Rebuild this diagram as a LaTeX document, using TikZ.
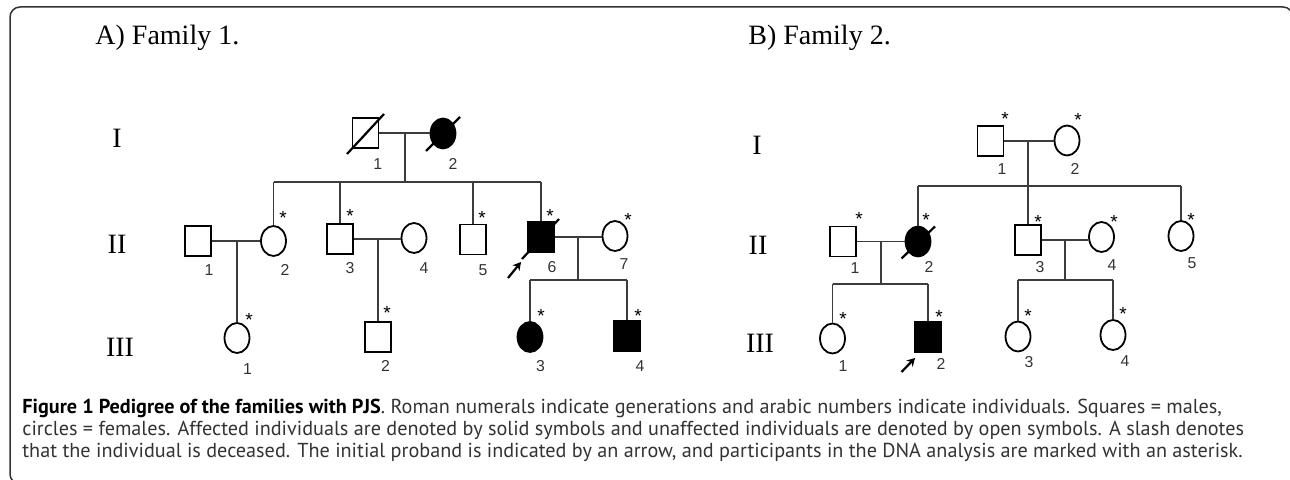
\documentclass[tikz,border=0pt]{standalone}
\usepackage{fontspec}
\setmainfont{Liberation Serif}
\newfontfamily\lab{Liberation Sans}
\newfontfamily\capfont{PT Sans}
\usetikzlibrary{shapes.geometric,arrows.meta}
\definecolor{linegray}{HTML}{3C3C3C}
\definecolor{capgray}{HTML}{333333}
\tikzset{
  x=0.5pt, y=-0.5pt,
  sym/.style={draw=black, line width=0.9pt, inner sep=0pt},
  male/.style={sym, rectangle, minimum width=13pt, minimum height=15pt},
  female/.style={sym, ellipse, minimum width=12.5pt, minimum height=15pt},
  aff/.style={fill=black},
  rel/.style={draw=linegray, line width=0.65pt},
  dec/.style={draw=black, line width=1.1pt},
  proband/.style={draw=black, line width=1.1pt, -{Stealth[length=4pt,width=4.5pt]}},
  num/.style={font=\lab\fontsize{7.9}{8}\selectfont, text=capgray, inner sep=0pt},
  ast/.style={font=\lab\fontsize{9.5}{9.5}\selectfont, inner sep=0pt, anchor=north},
  gen/.style={font=\fontsize{14}{15}\selectfont, inner sep=0pt},
  ttl/.style={font=\fontsize{14}{15}\selectfont, inner sep=0pt, anchor=base west},
  capline/.style={font=\capfont\fontsize{10.1}{12}\selectfont, text=capgray, inner sep=0pt, anchor=base west},
  frame/.style={draw=capgray, line width=0.75pt, rounded corners=5pt}
}
\begin{document}
\begin{tikzpicture}
\useasboundingbox (0,0) rectangle (1290,480);
\clip (0,0) rectangle (1290,480);
\fill[white] (0,0) rectangle (1290,480);
\draw[frame] (40,484) -- (10,484) -- (10,7) -- (1293,7) -- (1293,40);

% titles
\node[ttl] (tA) at (95,45) {A) Family 1.};
\node[ttl] (tB) at (748,45) {B) Family 2.};

% generation labels
\node[gen] (gA1) at (117,138) {I};
\node[gen] (gA2) at (117,244) {II};
\node[gen] (gA3) at (120,347) {III};
\node[gen] (gB1) at (757,145) {I};
\node[gen] (gB2) at (758,245) {II};
\node[gen] (gB3) at (760,343) {III};

%%%%%%%% Family A
\node[male] (A11) at (365.5,133) {};
\node[female,aff] (A12) at (443,133.5) {};
\node[male] (A21) at (198,241) {};
\node[female] (A22) at (273.5,241) {};
\node[male] (A23) at (340,239) {};
\node[female] (A24) at (414,238) {};
\node[male] (A25) at (473,239.5) {};
\node[male,aff] (A26) at (541,237) {};
\node[female] (A27) at (615,236) {};
\node[female] (A31) at (237,338) {};
\node[male] (A32) at (378,337) {};
\node[female,aff] (A33) at (530,337) {};
\node[male,aff] (A34) at (627,336) {};

% deceased slashes & proband
\draw[dec] ([shift={(-18.5,21)}]A11.center) -- ([shift={(18.5,-19)}]A11.center);
\draw[dec] ([shift={(-17,17.5)}]A12.center) -- ([shift={(17,-16.5)}]A12.center);
\draw[dec] ([shift={(-19,22)}]A26.center) -- ([shift={(18,-18)}]A26.center);
\draw[proband] ([shift={(-33,41)}]A26.center) -- ([shift={(-20,25)}]A26.center);

% connectors A
\draw[rel] (A11.east) -- (A11.east -| A12.west);
\coordinate (mA1) at (405,133.5);
\coordinate (sA1) at (405,182);
\draw[rel] (mA1) -- (sA1);
\draw[rel] (A22.north |- sA1) -- (A26.north |- sA1);
\foreach \c in {A22,A23,A25,A26} \draw[rel] (\c.north) -- (\c.north |- sA1);

\draw[rel] (A21.east) -- (A21.east -| A22.west);
\coordinate (mA2) at (237,241);
\draw[rel] (mA2) -- (A31.north);

\draw[rel] (A23.east) -- (A23.east -| A24.west);
\coordinate (mA3) at (378,239);
\draw[rel] (mA3) -- (A32.north);

\draw[rel] (A26.east) -- (A26.east -| A27.west);
\coordinate (mA4) at (578,236.5);
\coordinate (sA4) at (578,280);
\draw[rel] (mA4) -- (sA4);
\draw[rel] (A33.north |- sA4) -- (A34.north |- sA4);
\foreach \c in {A33,A34} \draw[rel] (\c.north) -- (\c.north |- sA4);

% numbers A
\node[num] (nA11) at (377.7,164) {1};
\node[num] (nA12) at (453,164) {2};
\node[num] (nA21) at (209,270) {1};
\node[num] (nA22) at (285,270) {2};
\node[num] (nA23) at (350,268) {3};
\node[num] (nA24) at (424,268) {4};
\node[num] (nA25) at (483,270) {5};
\node[num] (nA26) at (552,267) {6};
\node[num] (nA27) at (624,264) {7};
\node[num] (nA31) at (247.5,369) {1};
\node[num] (nA32) at (385.5,366) {2};
\node[num] (nA33) at (540.5,366) {3};
\node[num] (nA34) at (640,366) {4};

% asterisks A
\node[ast] (sa22) at (283,211) {*};
\node[ast] (sa23) at (350,209) {*};
\node[ast] (sa25) at (482,211) {*};
\node[ast] (sa26) at (550,209) {*};
\node[ast] (sa27) at (628,213) {*};
\node[ast] (sa31) at (249,313) {*};
\node[ast] (sa32) at (387,306) {*};
\node[ast] (sa33) at (541,309) {*};
\node[ast] (sa34) at (638,309) {*};

%%%%%%%% Family B
\node[male] (B11) at (990.5,141) {};
\node[female] (B12) at (1067,140.5) {};
\node[male] (B21) at (843,241.5) {};
\node[female,aff] (B22) at (918,241.5) {};
\node[male] (B23) at (1028,240) {};
\node[female] (B24) at (1101.5,237) {};
\node[female] (B25) at (1181,236) {};
\node[female] (B31) at (832.5,338.5) {};
\node[male,aff] (B32) at (928,337) {};
\node[female] (B33) at (1018,336.5) {};
\node[female] (B34) at (1113,335) {};

\draw[dec] ([shift={(-16.5,17)}]B22.center) -- ([shift={(17,-15)}]B22.center);
\draw[proband] ([shift={(-26.5,35)}]B32.center) -- ([shift={(-13,21)}]B32.center);

% connectors B
\draw[rel] (B11.east) -- (B11.east -| B12.west);
\coordinate (mB1) at (1028,141);
\coordinate (sB1) at (1028,186);
\draw[rel] (mB1) -- (sB1);
\draw[rel] (B22.north |- sB1) -- (B25.north |- sB1);
\foreach \c in {B22,B23,B25} \draw[rel] (\c.north) -- (\c.north |- sB1);

\draw[rel] (B21.east) -- (B21.east -| B22.west);
\coordinate (mB2) at (881,241.5);
\coordinate (sB2) at (881,284);
\draw[rel] (mB2) -- (sB2);
\draw[rel] (B31.north |- sB2) -- (B32.north |- sB2);
\foreach \c in {B31,B32} \draw[rel] (\c.north) -- (\c.north |- sB2);

\draw[rel] (B23.east) -- (B23.east -| B24.west);
\coordinate (mB3) at (1065,240);
\coordinate (sB3) at (1065,280);
\draw[rel] (mB3) -- (sB3);
\draw[rel] (B33.north |- sB3) -- (B34.north |- sB3);
\foreach \c in {B33,B34} \draw[rel] (\c.north) -- (\c.north |- sB3);

% numbers B
\node[num] (nB11) at (1002,169) {1};
\node[num] (nB12) at (1075,169) {2};
\node[num] (nB21) at (855,268) {1};
\node[num] (nB22) at (929,267) {2};
\node[num] (nB23) at (1040,267) {3};
\node[num] (nB24) at (1112,265) {4};
\node[num] (nB25) at (1192,263) {5};
\node[num] (nB31) at (843,366) {1};
\node[num] (nB32) at (941,364) {2};
\node[num] (nB33) at (1029,362) {3};
\node[num] (nB34) at (1125,361) {4};

% asterisks B
\node[ast] (sb11) at (1005,112) {*};
\node[ast] (sb12) at (1078,113) {*};
\node[ast] (sb21) at (859,212) {*};
\node[ast] (sb22) at (926,213) {*};
\node[ast] (sb23) at (1038,215) {*};
\node[ast] (sb24) at (1114,215) {*};
\node[ast] (sb25) at (1191,213) {*};
\node[ast] (sb31) at (843,312) {*};
\node[ast] (sb32) at (939,310) {*};
\node[ast] (sb33) at (1028,309) {*};
\node[ast] (sb34) at (1123,307) {*};

% caption
\node[capline] (c1) at (22,414) {\textbf{\color{black}Figure 1 Pedigree of the families with PJS}. Roman numerals indicate generations and arabic numbers indicate individuals. Squares = males,};
\node[capline] (c2) at (22,436) {circles = females. Affected individuals are denoted by solid symbols and unaffected individuals are denoted by open symbols. A slash denotes};
\node[capline] (c3) at (22,458) {that the individual is deceased. The initial proband is indicated by an arrow, and participants in the DNA analysis are marked with an asterisk.};
\end{tikzpicture}
\end{document}
